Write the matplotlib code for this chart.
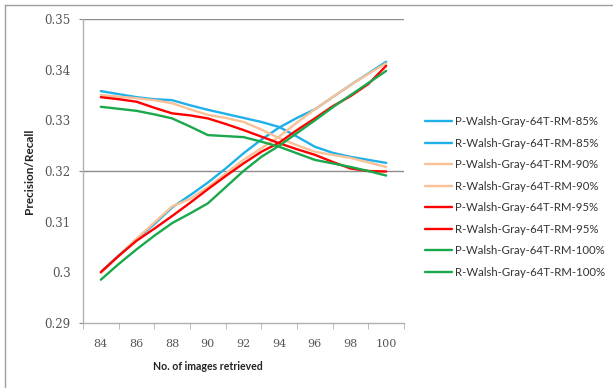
import numpy as np
import matplotlib.pyplot as plt
from matplotlib.ticker import MultipleLocator, FormatStrFormatter

images = list(range(84, 101))

# rising curves (precision)
p85 = [0.3000, 0.3033, 0.3065, 0.3095, 0.3128, 0.3152, 0.3177, 0.3205, 0.3235, 0.3262,
       0.3286, 0.3305, 0.3322, 0.3346, 0.3370, 0.3393, 0.3416]
p90 = [0.2998, 0.3032, 0.3066, 0.3098, 0.3130, 0.3145, 0.3168, 0.3195, 0.3222, 0.3245,
       0.3268, 0.3296, 0.3322, 0.3346, 0.3370, 0.3392, 0.3413]
p95 = [0.3000, 0.3032, 0.3062, 0.3086, 0.3111, 0.3137, 0.3164, 0.3190, 0.3215, 0.3238,
       0.3256, 0.3281, 0.3304, 0.3328, 0.3348, 0.3372, 0.3408]
p100 = [0.2985, 0.3016, 0.3045, 0.3072, 0.3097, 0.3116, 0.3136, 0.3168, 0.3200, 0.3228,
        0.3250, 0.3275, 0.3300, 0.3326, 0.3350, 0.3374, 0.3398]

# falling curves (recall)
r85 = [0.3358, 0.3352, 0.3346, 0.3342, 0.3340, 0.3330, 0.3321, 0.3313, 0.3305, 0.3297,
       0.3287, 0.3268, 0.3248, 0.3236, 0.3228, 0.3222, 0.3216]
r90 = [0.3350, 0.3347, 0.3344, 0.3340, 0.3334, 0.3322, 0.3311, 0.3305, 0.3297, 0.3282,
       0.3265, 0.3251, 0.3238, 0.3232, 0.3226, 0.3217, 0.3208]
r95 = [0.3346, 0.3342, 0.3337, 0.3325, 0.3314, 0.3310, 0.3304, 0.3293, 0.3281, 0.3268,
       0.3255, 0.3243, 0.3232, 0.3218, 0.3205, 0.3200, 0.3199]
r100 = [0.3327, 0.3323, 0.3319, 0.3312, 0.3304, 0.3288, 0.3271, 0.3269, 0.3267, 0.3258,
        0.3248, 0.3235, 0.3222, 0.3215, 0.3208, 0.3200, 0.3191]

series = [
    ("P-Walsh-Gray-64T-RM-85%", p85, "#1fb0ea"),
    ("R-Walsh-Gray-64T-RM-85%", r85, "#1fb0ea"),
    ("P-Walsh-Gray-64T-RM-90%", p90, "#f9c195"),
    ("R-Walsh-Gray-64T-RM-90%", r90, "#f9c195"),
    ("P-Walsh-Gray-64T-RM-95%", p95, "#ff0000"),
    ("R-Walsh-Gray-64T-RM-95%", r95, "#ff0000"),
    ("P-Walsh-Gray-64T-RM-100%", p100, "#1aa84c"),
    ("R-Walsh-Gray-64T-RM-100%", r100, "#1aa84c"),
]

fig = plt.figure(figsize=(6.13, 3.88), dpi=100)
ax = fig.add_axes([83/613, 1 - 322.7/388, 321/613, 303.4/388])

for name, vals, col in series:
    ax.plot(images, vals, color=col, lw=1.7, label=name, solid_capstyle='round')

ax.set_xlim(83, 101)
ax.set_ylim(0.29, 0.35)
ax.xaxis.set_major_locator(MultipleLocator(2))
ax.xaxis.set_minor_locator(MultipleLocator(2, offset=1))
ax.yaxis.set_major_locator(MultipleLocator(0.01))
ax.yaxis.set_major_formatter(FormatStrFormatter('%g'))

gray = "#8c8c8c"
for y in [0.35, 0.32]:
    ax.axhline(y, color=gray, lw=1.0, zorder=0)

for s in ['top', 'right']:
    ax.spines[s].set_visible(False)
for s in ['left', 'bottom']:
    ax.spines[s].set_color("#b0b0b0")
    ax.spines[s].set_linewidth(1.0)

ax.tick_params(axis='x', which='major', length=0, pad=12, labelsize=8, labelcolor="#555555")
ax.tick_params(axis='x', which='minor', length=4, color="#b0b0b0", direction='out')
ax.tick_params(axis='y', length=3, color=gray, pad=6, labelsize=8.5, labelcolor="#555555")
for lab in ax.get_xticklabels() + ax.get_yticklabels():
    lab.set_family("DejaVu Serif")
for t, v in zip(ax.yaxis.get_major_ticks(), ax.get_yticks()):
    if round(v, 2) not in (0.35, 0.32, 0.29):
        t.tick1line.set_visible(False)

fig.text(208/613, 1 - 366/388, "No. of images retrieved", ha='center', va='center',
         fontsize=7.6, fontweight='bold', family='Lato', color="#222222")
fig.text(30/613, 1 - 171/388, "Precision/Recall", ha='center', va='center', rotation=90,
         fontsize=8.5, fontweight='bold', family='Lato', color="#222222")

leg = ax.legend(loc='center left', bbox_to_anchor=(425/613, 1 - 197/388),
                bbox_transform=fig.transFigure, frameon=False, borderpad=0,
                borderaxespad=0, handlelength=2.4, handletextpad=0.2,
                labelspacing=0.92, prop={'family': 'Lato', 'size': 8.2})
for t in leg.get_texts():
    t.set_color("#333333")

# outer frame of the original chart
fig.add_artist(plt.Line2D([5/613, 1], [1 - 5/388, 1 - 5/388], transform=fig.transFigure,
                          color="#a0a0a0", lw=1))
fig.add_artist(plt.Line2D([5/613, 5/613], [0, 1 - 5/388], transform=fig.transFigure,
                          color="#a0a0a0", lw=1))

fig.savefig("out.png", dpi=100)
